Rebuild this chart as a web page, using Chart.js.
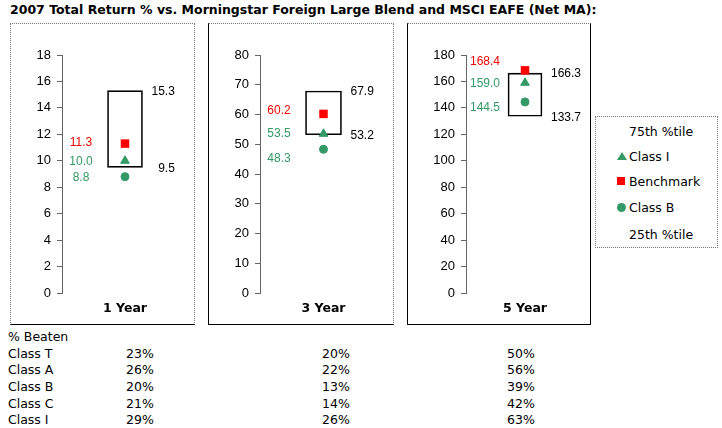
<!DOCTYPE html>
<html>
<head>
<meta charset="utf-8">
<script src="https://cdn.jsdelivr.net/npm/chart.js@4.4.1/dist/chart.umd.min.js"></script>
<style>
  body { margin: 0; width: 722px; height: 428px; background: #fff; position: relative; overflow: hidden;
         font-family: "DejaVu Sans", Verdana, sans-serif; color: #000; }
  #title { position: absolute; left: 10px; top: 3px; font-size: 12.5px; font-weight: bold; white-space: nowrap; line-height: 14px; }
  .panel { position: absolute; top: 23px; height: 302px; box-sizing: border-box;
           border: 1px dotted #777; border-bottom: 1px solid #000; }
  .panel canvas { position: absolute; left: 0; top: 0; }
  #legend { position: absolute; left: 595px; top: 116px; width: 123px; height: 132px; box-sizing: border-box;
            border: 1px dotted #777; font-size: 12.5px; }
  #legend div { position: absolute; left: 33px; line-height: 14px; white-space: nowrap; }
  #legend i { position: absolute; display: block; }
  .tri { width: 0; height: 0; border-left: 5px solid transparent; border-right: 5px solid transparent; border-bottom: 8px solid #339966; }
  .sq { width: 8px; height: 8px; background: #ff0000; }
  .dot { width: 9px; height: 9px; border-radius: 50%; background: #339966; }
  .tbl { position: absolute; font-size: 12.5px; line-height: 14px; white-space: nowrap; }
</style>
</head>
<body>
<div id="title">2007 Total Return % vs. Morningstar Foreign Large Blend and MSCI EAFE (Net MA):</div>
<div class="panel" id="p0"><canvas id="c0"></canvas></div>
<div class="panel" id="p1"><canvas id="c1"></canvas></div>
<div class="panel" id="p2"><canvas id="c2"></canvas></div>
<div id="legend"></div>
<div id="table"></div>
<script>
// chart data
const periods = ['1 Year', '3 Year', '5 Year'];
const pct75 = [15.3, 67.9, 166.3];
const pct25 = [9.5, 53.2, 133.7];
const benchmark = [11.3, 60.2, 168.4];
const classI = [10.0, 53.5, 159.0];
const classB = [8.8, 48.3, 144.5];
const axisMax = [18, 80, 180];
const axisStep = [2, 10, 20];

const beatenClasses = ['Class T', 'Class A', 'Class B', 'Class C', 'Class I'];
const beaten1 = [23, 26, 20, 21, 29];
const beaten3 = [20, 22, 13, 14, 26];
const beaten5 = [50, 56, 39, 42, 63];

// layout
const panelLeft = [10, 208, 407];
const panelWidth = [185, 186, 184];
const axisWidth = [51, 51, 58];
const padRight = [6, 5, 6];
const boxWidth = [35, 36, 34];
const labelShift = [[-1, 1, 1], [-3, 0, 9], [-9, 1, 6]];
const RED = '#ff0000', GREEN = '#339966';

Chart.defaults.font.family = '"Liberation Sans", Arial, sans-serif';
Chart.defaults.font.size = 12;
Chart.defaults.color = '#000';

const valueLabels = {
  id: 'valueLabels',
  afterDatasetsDraw(chart, args, opts) {
    const i = opts.index;
    const { ctx, scales: { x, y } } = chart;
    const bar = chart.getDatasetMeta(3).data[0];
    const right = x.getPixelForValue(0) + bar.width / 2;
    ctx.save();
    ctx.font = '12px "Liberation Sans", Arial, sans-serif';
    ctx.textBaseline = 'middle';
    ctx.textAlign = 'center';
    const lx = y.right + 19;
    [[benchmark[i], RED], [classI[i], GREEN], [classB[i], GREEN]].forEach(([v, c], k) => {
      ctx.fillStyle = c;
      ctx.fillText(v.toFixed(1), lx, y.getPixelForValue(v) + labelShift[i][k]);
    });
    ctx.fillStyle = '#000';
    ctx.textAlign = 'right';
    const top = pct75[i].toFixed(1);
    const end = right + 9 + ctx.measureText(top).width;
    ctx.fillText(top, end, y.getPixelForValue(pct75[i]) + 1);
    ctx.fillText(pct25[i].toFixed(1), end, y.getPixelForValue(pct25[i]) + 1);
    ctx.restore();
  }
};

periods.forEach((period, i) => {
  const panel = document.getElementById('p' + i);
  panel.style.left = panelLeft[i] + 'px';
  panel.style.width = panelWidth[i] + 'px';
  if (i > 0) panel.style.borderLeft = '1px solid #000';
  if (i === 2) panel.style.borderRight = '1px solid #000';

  const canvas = document.getElementById('c' + i);
  canvas.width = panelWidth[i] - 2;
  canvas.height = 300;

  new Chart(canvas, {
    type: 'bar',
    data: {
      labels: [period],
      datasets: [
        { type: 'line', label: 'Benchmark', data: [benchmark[i]], showLine: false, pointStyle: 'rect',
          pointRadius: 6, pointBorderWidth: 0, backgroundColor: RED, borderColor: RED, order: 0 },
        { type: 'line', label: 'Class I', data: [classI[i]], showLine: false, pointStyle: 'triangle',
          pointRadius: 5, pointBorderWidth: 1, backgroundColor: GREEN, borderColor: GREEN, order: 0 },
        { type: 'line', label: 'Class B', data: [classB[i]], showLine: false, pointStyle: 'circle',
          pointRadius: 4, pointBorderWidth: 1, backgroundColor: GREEN, borderColor: GREEN, order: 0 },
        { label: '25th-75th %tile', data: [[pct25[i], pct75[i]]], backgroundColor: 'rgba(0,0,0,0)',
          borderColor: '#000', borderWidth: 1, borderSkipped: false, barThickness: boxWidth[i], order: 2 }
      ]
    },
    options: {
      responsive: false,
      animation: false,
      events: [],
      layout: { padding: { top: 31, right: padRight[i], left: 0, bottom: 0 } },
      plugins: { legend: { display: false }, tooltip: { enabled: false }, valueLabels: { index: i } },
      scales: {
        x: {
          grid: { display: false, drawTicks: false },
          border: { display: false },
          ticks: { padding: 8, font: { family: '"DejaVu Sans", Verdana, sans-serif', size: 12.5, weight: 'bold' } },
          afterFit: s => { s.height = 31; }
        },
        y: {
          min: 0, max: axisMax[i],
          ticks: { stepSize: axisStep[i], padding: 6, font: { size: 13 } },
          grid: { drawOnChartArea: false, drawTicks: true, tickLength: 5, color: '#666' },
          border: { display: true, color: '#666' },
          afterFit: s => { s.width = axisWidth[i]; }
        }
      }
    },
    plugins: [valueLabels]
  });
});

// legend
const legend = document.getElementById('legend');
[['75th %tile', null, 15], ['Class I', 'tri', 40], ['Benchmark', 'sq', 65], ['Class B', 'dot', 91], ['25th %tile', null, 118]]
  .forEach(([text, shape, cy]) => {
    const d = document.createElement('div');
    d.textContent = text;
    d.style.top = (cy - 7) + 'px';
    legend.appendChild(d);
    if (shape) {
      const m = document.createElement('i');
      m.className = shape;
      m.style.left = '21px';
      m.style.top = (cy - 5) + 'px';
      legend.appendChild(m);
    }
  });

// % beaten table
const table = document.getElementById('table');
function cell(text, x, cy) {
  const d = document.createElement('div');
  d.className = 'tbl';
  d.textContent = text;
  d.style.left = x + 'px';
  d.style.top = (cy - 7) + 'px';
  table.appendChild(d);
}
cell('% Beaten', 8, 337);
const rowY = [354, 370, 387, 404, 420];
beatenClasses.forEach((c, k) => {
  cell(c, 8, rowY[k]);
  cell(beaten1[k] + '%', 126, rowY[k]);
  cell(beaten3[k] + '%', 322, rowY[k]);
  cell(beaten5[k] + '%', 507, rowY[k]);
});
</script>
</body>
</html>
